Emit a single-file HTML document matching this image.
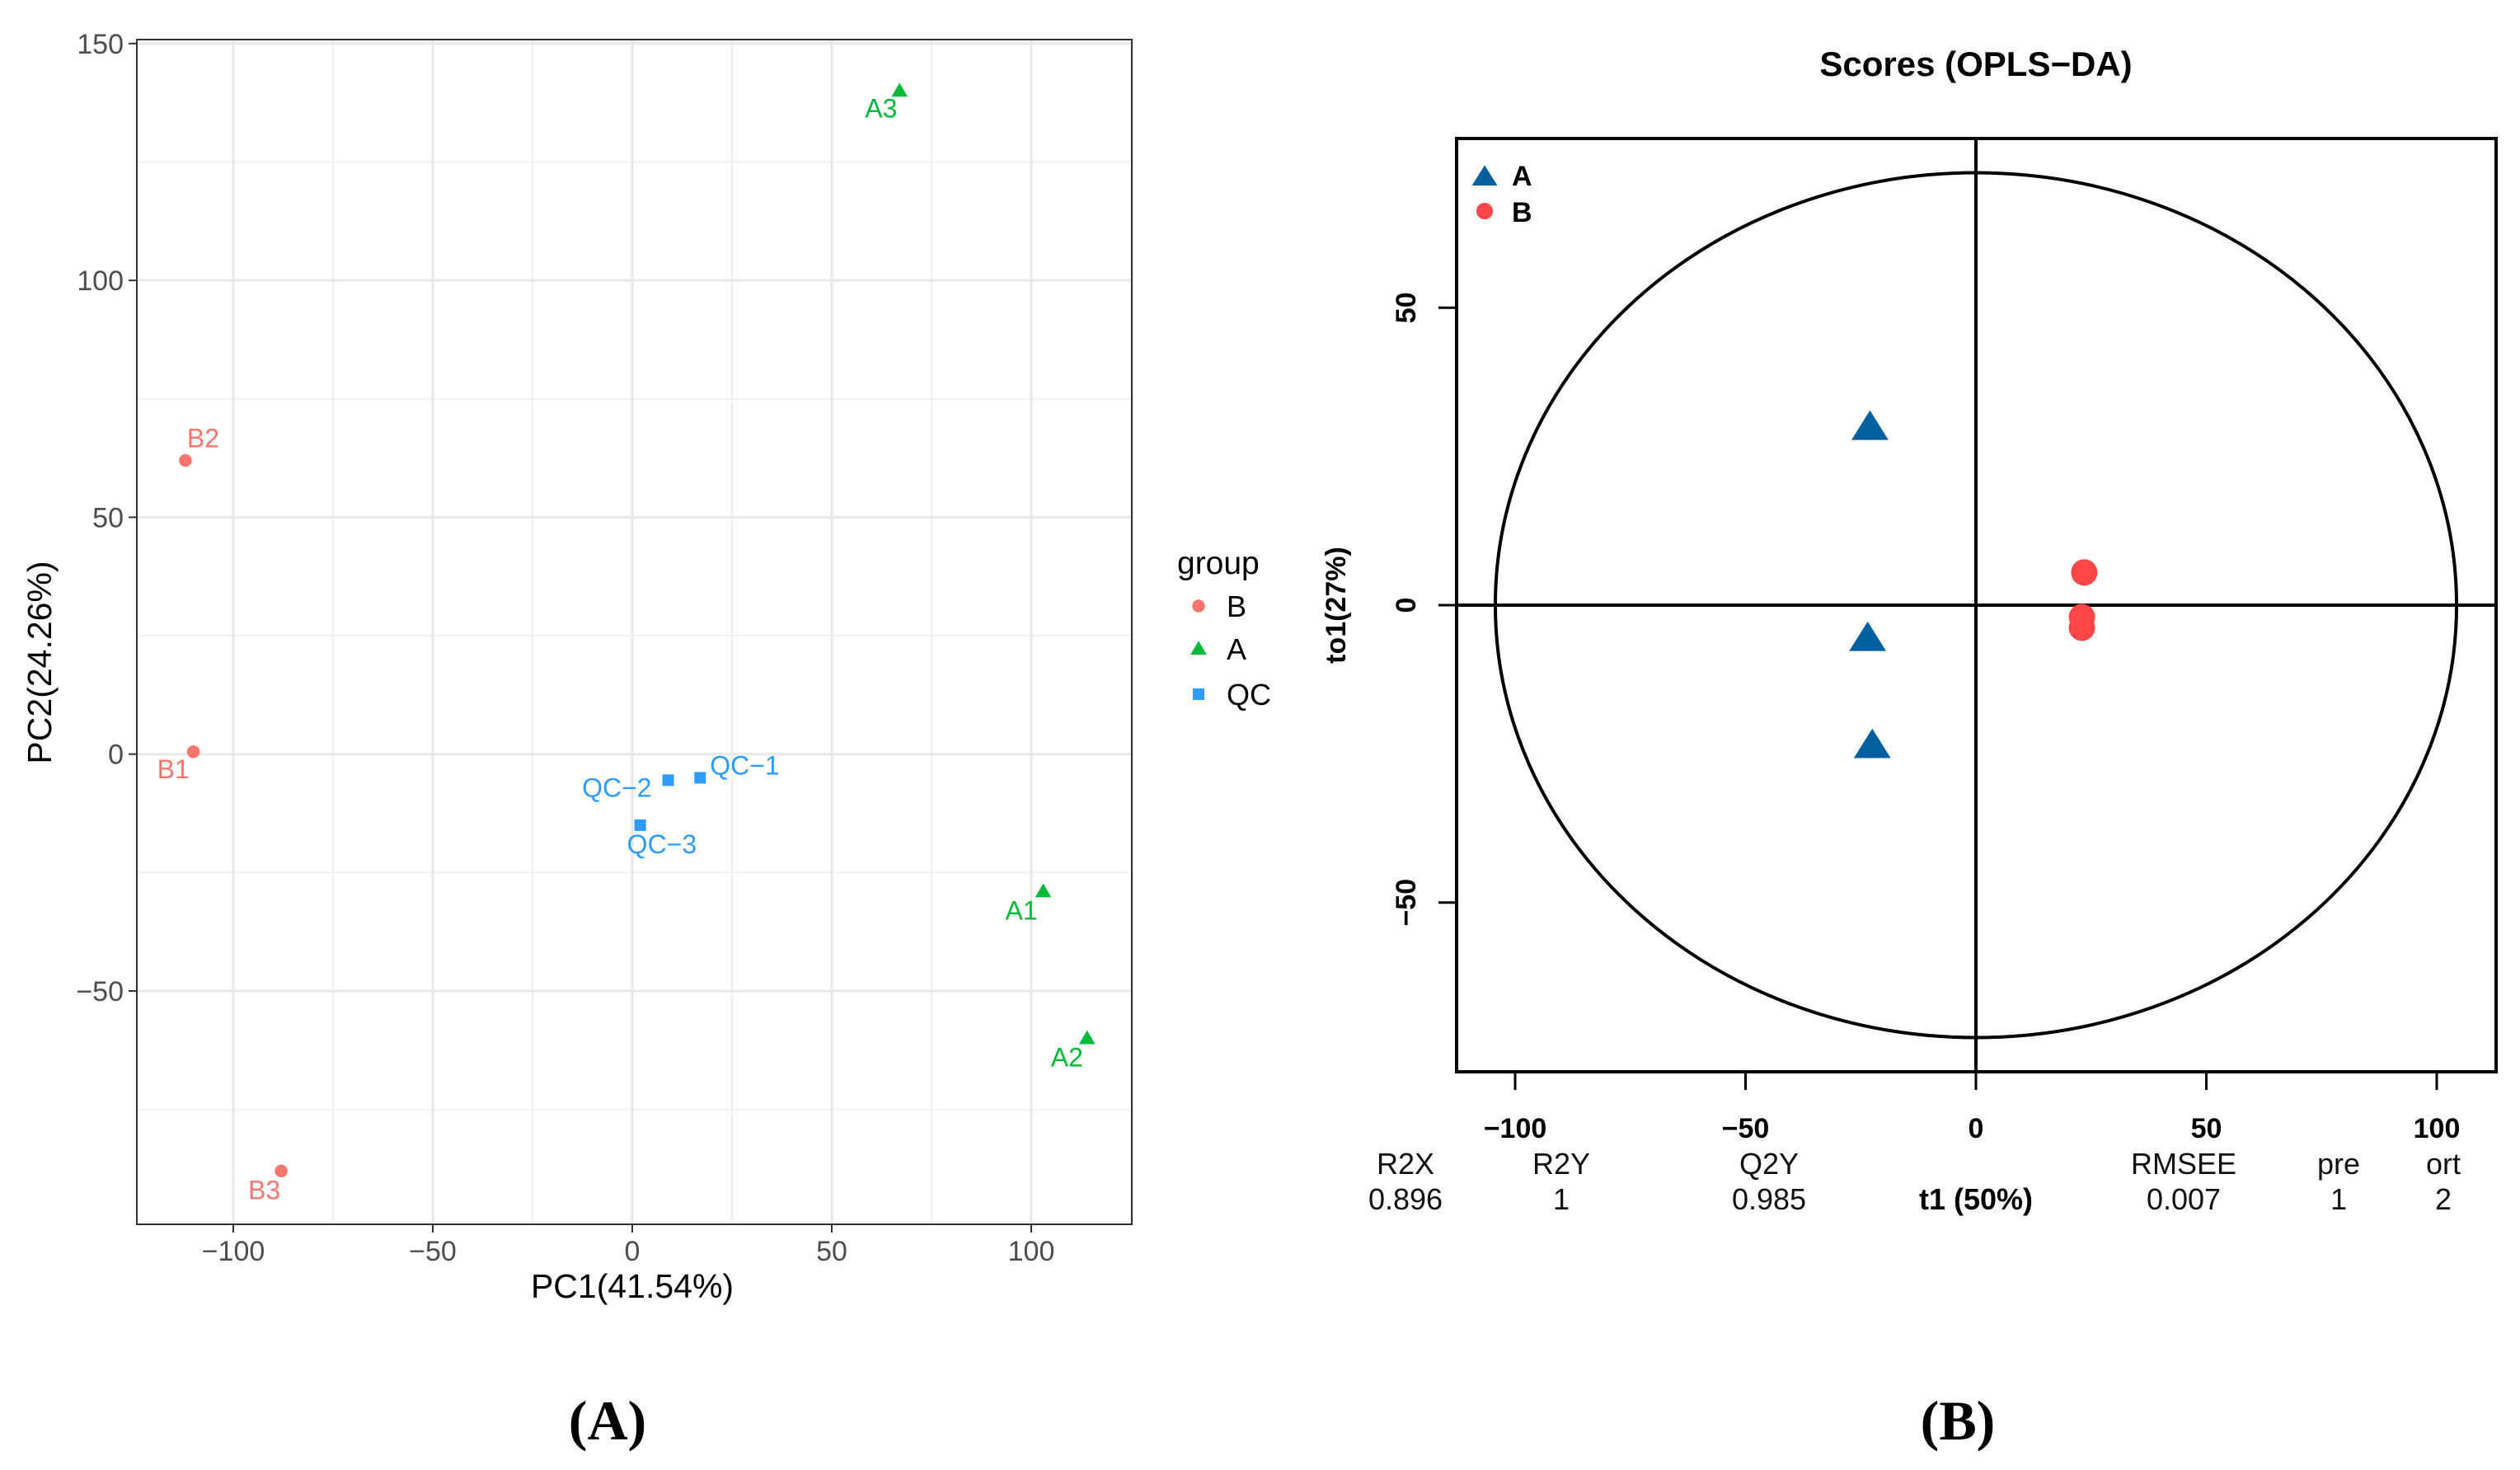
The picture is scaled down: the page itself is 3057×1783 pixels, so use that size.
<!DOCTYPE html>
<html><head><meta charset="utf-8">
<style>
html,body{margin:0;padding:0;background:#fff;}
svg{display:block;font-family:"Liberation Sans",sans-serif;}
</style></head>
<body>
<svg id="fig" width="3057" height="1783" viewBox="0 0 3057 1783" xmlns="http://www.w3.org/2000/svg">
<rect width="3057" height="1783" fill="#fff"/>
<g id="pA"></g>
<g id="pB"></g>
</svg>
<script>
// ---- Panel A data (PCA) ----
const pcaLabels = ["B2","B1","B3","QC-1","QC-2","QC-3","A3","A1","A2"];
const pcaGroups = ["B","B","B","QC","QC","QC","A","A","A"];
const pcaX = [-112,-110,-88,17,9,2,67,103,114];
const pcaY = [62,0.5,-88,-5,-5.5,-15,140,-29,-60];
const pcaXTicks = [-100,-50,0,50,100];
const pcaYTicks = [-50,0,50,100,150];
const legendGroups = ["B","A","QC"];
// ---- Panel B data (OPLS-DA) ----
const oplsGroup = ["A","A","A","B","B","B"];
const oplsT1 = [-23,-23.5,-22.5,23.5,23,23];
const oplsTo1 = [30,-5.5,-23.5,5.5,-2,-3.8];
const oplsXTicks = [-100,-50,0,50,100];
const oplsYTicks = [-50,0,50];
const statNames = ["R2X","R2Y","Q2Y","RMSEE","pre","ort"];
const statValues = ["0.896","1","0.985","0.007","1","2"];

const NS="http://www.w3.org/2000/svg";
function mk(parent,tag,attrs,text){const e=document.createElementNS(NS,tag);for(const k in attrs)e.setAttribute(k,attrs[k]);if(text!==undefined)e.textContent=text;parent.appendChild(e);return e;}
const colA={B:"#F8766D",A:"#00BA38",QC:"#2E9BFF"};

// ===== Panel A =====
const gA=document.getElementById('pA');
const L=166,R=1373,T=48,Bt=1485;
const ax=v=>767+v*242/50, ay=v=>914.7-v*287.3/50;
for(let v=-125;v<=125;v+=25){ if(v%50===0)continue; const x=ax(v); if(x>L&&x<R){const l=mk(gA,'line',{x1:x,x2:x,y1:T,y2:Bt,stroke:'#f0f0f0','stroke-width':2});}}
for(let v=-75;v<=175;v+=50){ const y=ay(v); if(y>T&&y<Bt){const l=mk(gA,'line',{x1:L,x2:R,y1:y,y2:y,stroke:'#f0f0f0','stroke-width':2});}}
pcaXTicks.forEach(v=>{const x=ax(v);
 const l=mk(gA,'line',{x1:x,x2:x,y1:T,y2:Bt,stroke:'#e8e8e8','stroke-width':3});
 mk(gA,'line',{x1:x,x2:x,y1:Bt,y2:Bt+10,stroke:'#333','stroke-width':2});
 const t=mk(gA,'text',{x:x,y:Bt+44,'font-size':34,fill:'#4d4d4d','text-anchor':'middle'},String(v).replace('-','\u2212'));
 });
pcaYTicks.forEach(v=>{const y=ay(v);
 const l=mk(gA,'line',{x1:L,x2:R,y1:y,y2:y,stroke:'#e8e8e8','stroke-width':3});
 mk(gA,'line',{x1:L-10,x2:L,y1:y,y2:y,stroke:'#333','stroke-width':2});
 const t=mk(gA,'text',{x:L-16,y:y+12,'font-size':34,fill:'#4d4d4d','text-anchor':'end'},String(v).replace('-','\u2212'));
 });
let fr=mk(gA,'rect',{x:L,y:T,width:R-L,height:Bt-T,fill:'none',stroke:'#333','stroke-width':2});

function marker(g,grp,x,y,s){
 if(grp==='B') return mk(g,'circle',{cx:x,cy:y,r:s*0.55,fill:colA.B});
 if(grp==='A') return mk(g,'polygon',{points:`${x},${y-s*0.7} ${x-s*0.7},${y+s*0.5} ${x+s*0.7},${y+s*0.5}`,fill:colA.A});
 return mk(g,'rect',{x:x-s*0.5,y:y-s*0.5,width:s,height:s,fill:colA.QC});
}
const lblOff={"B2":[2,-16,'start'],"B1":[-44,32,'start'],"B3":[-40,34,'start'],"QC-1":[12,-4,'start'],"QC-2":[-20,20,'end'],"QC-3":[-16,34,'start'],"A3":[-42,32,'start'],"A1":[-46,34,'start'],"A2":[-44,34,'start']};
pcaX.forEach((v,i)=>{const x=ax(v),y=ay(pcaY[i]);
 const m=marker(gA,pcaGroups[i],x,y,14);
 
 
 const o=lblOff[pcaLabels[i]];
 const t=mk(gA,'text',{x:x+o[0],y:y+o[1],'font-size':32,fill:colA[pcaGroups[i]],'text-anchor':o[2]},pcaLabels[i].replace('-','\u2212'));
 });
let t=mk(gA,'text',{x:767,y:1574,'font-size':41,fill:'#000','text-anchor':'middle'},'PC1(41.54%)');

t=mk(gA,'text',{x:0,y:0,'font-size':41,fill:'#000','text-anchor':'middle',transform:`translate(62,${(T+Bt)/2+37}) rotate(-90)`},'PC2(24.26%)');

t=mk(gA,'text',{x:1428,y:696,'font-size':39,fill:'#000'},'group');

const legY=[735,787,842];
legendGroups.forEach((g,i)=>{const m=marker(gA,g,1454,legY[i],14);
 
 const tt=mk(gA,'text',{x:1488,y:legY[i]+13,'font-size':36,fill:'#000'},g);
 });
t=mk(gA,'text',{x:737,y:1746,'font-size':68,'font-weight':'bold','font-family':'"Liberation Serif",serif','text-anchor':'middle'},'(A)');


// ===== Panel B =====
const gB=document.getElementById('pB');
const L2=1767,R2=3028,T2=168,B2=1300;
const bx=v=>2397+v*279.5/50, by=v=>734-v*360.7/50;
t=mk(gB,'text',{x:2397,y:92,'font-size':42,'font-weight':'bold','text-anchor':'middle'},'Scores (OPLS\u2212DA)');

const el=mk(gB,'ellipse',{cx:bx(0),cy:by(0),rx:bx(104.3)-bx(0),ry:by(0)-by(72.7),fill:'none',stroke:'#000','stroke-width':4});

let ln=mk(gB,'line',{x1:bx(0),x2:bx(0),y1:T2,y2:B2,stroke:'#000','stroke-width':4});

ln=mk(gB,'line',{x1:L2,x2:R2,y1:by(0),y2:by(0),stroke:'#000','stroke-width':4});

fr=mk(gB,'rect',{x:L2,y:T2,width:R2-L2,height:B2-T2,fill:'none',stroke:'#000','stroke-width':4});

oplsXTicks.forEach(v=>{const x=bx(v);
 mk(gB,'line',{x1:x,x2:x,y1:B2,y2:B2+22,stroke:'#000','stroke-width':3});
 const tt=mk(gB,'text',{x:x,y:1380,'font-size':34,'font-weight':'bold','text-anchor':'middle'},String(v).replace('-','\u2212'));
 });
oplsYTicks.forEach(v=>{const y=by(v);
 mk(gB,'line',{x1:L2-22,x2:L2,y1:y,y2:y,stroke:'#000','stroke-width':3});
 const tt=mk(gB,'text',{x:0,y:0,'font-size':34,'font-weight':'bold','text-anchor':'middle',transform:`translate(1717,${y}) rotate(-90)`},String(v).replace('-','\u2212'));
 });
t=mk(gB,'text',{x:0,y:0,'font-size':34,'font-weight':'bold','text-anchor':'middle',transform:`translate(1632,734) rotate(-90)`},'to1(27%)');

t=mk(gB,'text',{x:2397,y:1467,'font-size':36,'font-weight':'bold','text-anchor':'middle'},'t1 (50%)');

const colB={A:"#005F9E",B:"#FF4545"};
function mB(g,grp,x,y,s){
 if(grp==='A') return mk(g,'polygon',{points:`${x},${y-s*0.62} ${x-s*0.7},${y+s*0.5} ${x+s*0.7},${y+s*0.5}`,fill:colB.A});
 return mk(g,'circle',{cx:x,cy:y,r:s*0.5,fill:colB.B});
}
oplsT1.forEach((v,i)=>{const m=mB(gB,oplsGroup[i],bx(v),by(oplsTo1[i]),32);
 
 });
let lk=mB(gB,'A',1801,214,22);
lk=mB(gB,'B',1801,256,20);
t=mk(gB,'text',{x:1834,y:225,'font-size':34,'font-weight':'bold'},'A');
t=mk(gB,'text',{x:1834,y:269,'font-size':34,'font-weight':'bold'},'B');
const statX=[1705,1894,2146,2649,2837,2964];
statNames.forEach((n,i)=>{
 const a=mk(gB,'text',{x:statX[i],y:1424,'font-size':36,'text-anchor':'middle',fill:'#111'},n);
 
 const b=mk(gB,'text',{x:statX[i],y:1467,'font-size':36,'text-anchor':'middle',fill:'#111'},statValues[i]);
 });
t=mk(gB,'text',{x:2375,y:1746,'font-size':68,'font-weight':'bold','font-family':'"Liberation Serif",serif','text-anchor':'middle'},'(B)');

</script>
</body></html>
